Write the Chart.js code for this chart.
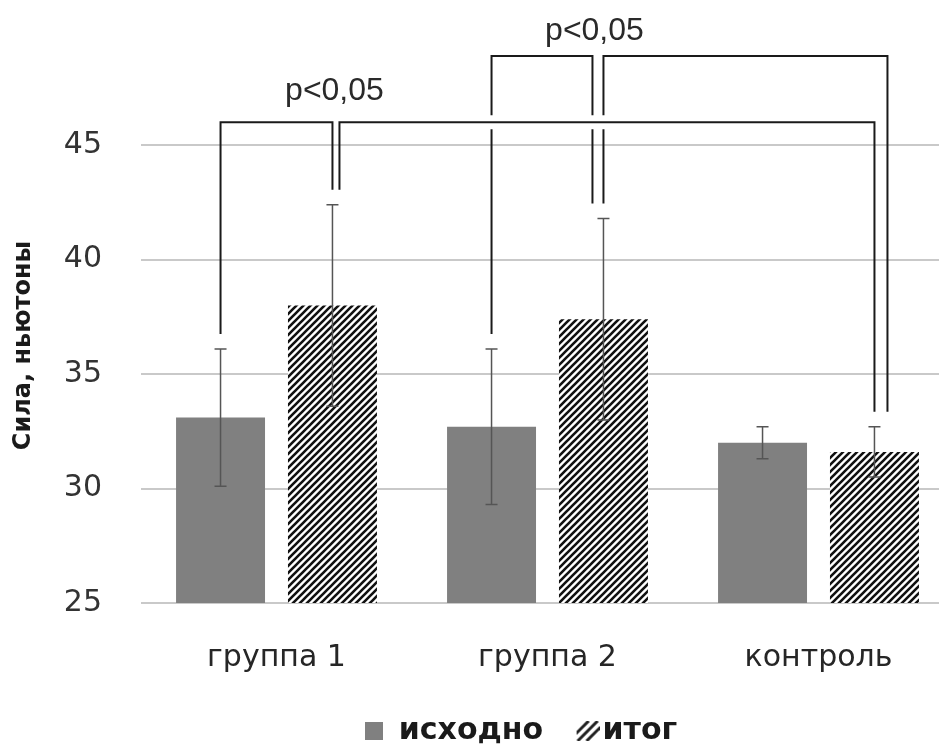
<!DOCTYPE html>
<html lang="ru">
<head>
<meta charset="utf-8">
<title>Сила, ньютоны</title>
<script src="https://cdn.jsdelivr.net/npm/chart.js@4.4.1/dist/chart.umd.min.js"></script>
<style>
  html, body { margin: 0; padding: 0; background: #fff; overflow: hidden; }
  canvas { display: block; }
</style>
</head>
<body>
<canvas id="chart" width="954" height="749"></canvas>
<script>
const categories = ["группа 1", "группа 2", "контроль"];
const seriesNames = ["исходно", "итог"];
const before = [33.1, 32.7, 32.0];
const beforeErr = [3.0, 3.4, 0.7];
const after = [38.0, 37.4, 31.6];
const afterErr = [4.4, 4.4, 1.1];
const yTicks = [25, 30, 35, 40, 45];

// significance brackets: [dataset, category] at each end, height in newtons
const brackets = [
  { from: [0, 0], to: [1, 0], level: 46.0 },
  { from: [1, 0], to: [1, 2], level: 46.0 },
  { from: [0, 1], to: [1, 1], level: 48.9 },
  { from: [1, 1], to: [1, 2], level: 48.9 }
];
const pLabels = [
  { text: "p<0,05", at: [1, 0], level: 46.0 },
  { text: "p<0,05", at: [1, 1], level: 48.9 }
];

// px nudges so two legs landing on one bar sit side by side
const legShift = [[0, 0], [7, 0], [0, -11], [0, 13]];
// px placement of the p labels relative to their bracket line: [dx, lift]
const labelShift = [[2, 22], [-9, 16]];

const axisFont = { family: "'DejaVu Sans', sans-serif", size: 30 };

function hatch(size, width) {
  const c = document.createElement("canvas");
  c.width = c.height = size;
  const g = c.getContext("2d");
  g.fillStyle = "#fff";
  g.fillRect(0, 0, size, size);
  g.strokeStyle = "#111";
  g.lineWidth = width;
  g.beginPath();
  g.moveTo(-1, size + 1); g.lineTo(size + 1, -1);
  g.moveTo(-2, 2); g.lineTo(2, -2);
  g.moveTo(size - 2, size + 2); g.lineTo(size + 2, size - 2);
  g.stroke();
  return g.createPattern(c, "repeat");
}

function swatch(w, h, draw) {
  const c = document.createElement("canvas");
  c.width = w; c.height = h;
  draw(c.getContext("2d"), w, h);
  return c;
}

const solidMark = swatch(18, 18, (g, w, h) => {
  g.fillStyle = "#808080";
  g.fillRect(0, 0, w, h);
});
// strokes sit in the right part so they hug the label
const hatchMark = swatch(44, 20, (g, w, h) => {
  g.beginPath(); g.rect(21, 0, 23, h); g.clip();
  g.strokeStyle = "#222";
  g.lineWidth = 3;
  [-9, 0, 9].forEach(o => {
    g.beginPath();
    g.moveTo(22 + o, h); g.lineTo(22 + o + h, 0);
    g.stroke();
  });
});

const errorBars = {
  id: "errorBars",
  afterDatasetsDraw(chart) {
    const { ctx, scales: { y } } = chart;
    ctx.save();
    ctx.strokeStyle = "#555";
    ctx.lineWidth = 1.5;
    chart.data.datasets.forEach((ds, i) => {
      chart.getDatasetMeta(i).data.forEach((bar, j) => {
        const top = y.getPixelForValue(ds.data[j] + ds.errors[j]);
        const bottom = y.getPixelForValue(ds.data[j] - ds.errors[j]);
        ctx.beginPath();
        ctx.moveTo(bar.x, top); ctx.lineTo(bar.x, bottom);
        ctx.moveTo(bar.x - 6, top); ctx.lineTo(bar.x + 6, top);
        ctx.moveTo(bar.x - 6, bottom); ctx.lineTo(bar.x + 6, bottom);
        ctx.stroke();
      });
    });
    ctx.restore();
  }
};

const sigBrackets = {
  id: "sigBrackets",
  afterDraw(chart) {
    const { ctx, scales: { y } } = chart;
    const barX = ([d, c]) => chart.getDatasetMeta(d).data[c].x;
    const legEnd = ([d, c]) => {
      const ds = chart.data.datasets[d];
      return y.getPixelForValue(ds.data[c] + ds.errors[c]) - 15;
    };
    // upper tier first, the lower one cuts through its legs
    const order = brackets.map((b, i) => i)
      .sort((a, b) => brackets[b].level - brackets[a].level);
    ctx.save();
    order.forEach(i => {
      const b = brackets[i];
      const yl = y.getPixelForValue(b.level);
      const x1 = barX(b.from) + legShift[i][0];
      const x2 = barX(b.to) + legShift[i][1];
      ctx.strokeStyle = "#fff";
      ctx.lineWidth = 14;
      ctx.beginPath(); ctx.moveTo(x1 + 2, yl); ctx.lineTo(x2 - 2, yl); ctx.stroke();
      ctx.strokeStyle = "#1a1a1a";
      ctx.lineWidth = 2;
      ctx.beginPath();
      ctx.moveTo(x1, legEnd(b.from));
      ctx.lineTo(x1, yl);
      ctx.lineTo(x2, yl);
      ctx.lineTo(x2, legEnd(b.to));
      ctx.stroke();
    });
    ctx.fillStyle = "#2a2a2a";
    ctx.font = "32px 'Liberation Sans', Arial, sans-serif";
    ctx.textAlign = "center";
    ctx.textBaseline = "alphabetic";
    pLabels.forEach((l, i) => {
      const [dx, lift] = labelShift[i];
      ctx.fillText(l.text, barX(l.at) + dx, y.getPixelForValue(l.level) - lift);
    });
    ctx.restore();
  }
};

// nudge the legend a bit left so it sits under the plot like the original layout
const legendNudge = {
  id: "legendNudge",
  afterLayout(chart) {
    chart.legend.left -= 27;
    chart.legend.right -= 27;
  }
};

new Chart(document.getElementById("chart"), {
  type: "bar",
  data: {
    labels: categories,
    datasets: [
      { label: seriesNames[0], data: before, errors: beforeErr, backgroundColor: "#808080" },
      { label: seriesNames[1], data: after, errors: afterErr, backgroundColor: hatch(7, 2.6) }
    ]
  },
  options: {
    responsive: false,
    animation: false,
    datasets: { bar: { categoryPercentage: 0.826, barPercentage: 0.795 } },
    layout: { padding: { top: 88, right: 0, bottom: 0, left: 0 } },
    scales: {
      x: {
        afterFit: s => { s.height = 88.5; },
        grid: { display: false, drawTicks: false },
        border: { display: false },
        ticks: { font: axisFont, color: "#262626", padding: 37 }
      },
      y: {
        min: 25,
        max: 47.5,
        afterBuildTicks: s => { s.ticks = yTicks.map(v => ({ value: v })); },
        afterFit: s => { s.width = 141; },
        grid: { color: "#c9c9c9", lineWidth: 2, drawTicks: false },
        border: { display: false },
        ticks: { font: axisFont, color: "#333", padding: 39 },
        title: {
          display: true,
          text: "Сила, ньютоны",
          color: "#1a1a1a",
          font: { family: "'DejaVu Sans', sans-serif", size: 24, weight: "bold" },
          padding: { top: 9, bottom: 0 }
        }
      }
    },
    plugins: {
      tooltip: { enabled: false },
      legend: {
        position: "bottom",
        fullSize: false,
        maxHeight: 57.5,
        labels: {
          usePointStyle: true,
          boxWidth: 20,
          padding: 24.5,
          color: "#1a1a1a",
          font: { family: "'DejaVu Sans', sans-serif", size: 30, weight: "bold" },
          generateLabels: () => [
            { text: seriesNames[0], pointStyle: solidMark, fontColor: "#1a1a1a", lineWidth: 0, hidden: false, datasetIndex: 0 },
            { text: seriesNames[1], pointStyle: hatchMark, fontColor: "#1a1a1a", lineWidth: 0, hidden: false, datasetIndex: 1 }
          ]
        }
      }
    }
  },
  plugins: [errorBars, sigBrackets, legendNudge]
});
</script>
</body>
</html>
